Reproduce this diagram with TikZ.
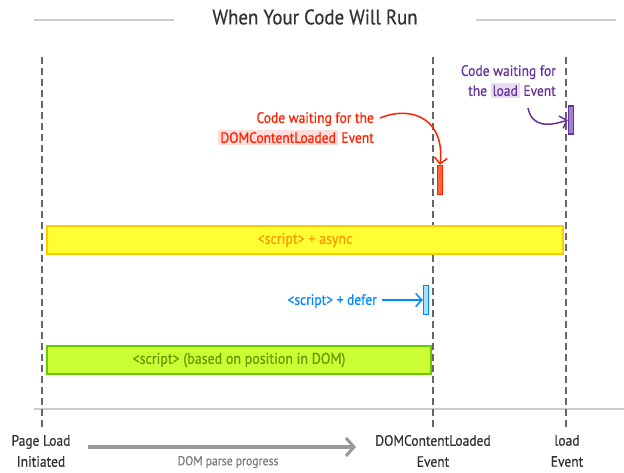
\documentclass[tikz,border=0pt]{standalone}
\usepackage{fontspec}
\setmainfont[FakeStretch=0.9,FakeBold=0.6]{PT Sans}
\usetikzlibrary{arrows.meta}
\definecolor{dashgray}{HTML}{666666}
\definecolor{linegray}{HTML}{CCCCCC}
\definecolor{ttl}{HTML}{333333}
\definecolor{redc}{HTML}{FF2200}
\definecolor{redfill}{HTML}{FF6633}
\definecolor{pinkhl}{HTML}{FFDDDD}
\definecolor{purc}{HTML}{663399}
\definecolor{purfill}{HTML}{A57FD6}
\definecolor{purhl}{HTML}{E6DDF2}
\definecolor{bluec}{HTML}{0088FF}
\definecolor{bluefill}{HTML}{AADDFF}
\definecolor{yelfill}{HTML}{FFFF33}
\definecolor{yeldraw}{HTML}{FFCC00}
\definecolor{yeltext}{HTML}{FF9900}
\definecolor{grnfill}{HTML}{CCFF33}
\definecolor{grndraw}{HTML}{66CC00}
\definecolor{grntext}{HTML}{669900}
\definecolor{arrgray}{HTML}{999999}
\tikzset{
  evline/.style={draw=dashgray, line width=2pt, dash pattern=on 7pt off 4pt},
  bar/.style={line width=2pt, minimum height=28pt, inner sep=0pt, anchor=west, font=\fontsize{15.5}{17}\selectfont},
  mark box/.style={line width=1.5pt, minimum width=5pt, inner sep=0pt},
  lbl/.style={font=\fontsize{15}{21}\selectfont, align=center, text=ttl},
  note/.style={font=\fontsize{15}{20}\selectfont, align=right, inner sep=0pt},
  chev/.style={-{Straight Barb[length=6pt,width=13pt,line width=1.5pt]}}
}
\setlength{\fboxsep}{2pt}
\begin{document}
\begin{tikzpicture}[x=1pt,y=-1pt]
\useasboundingbox (0,0) rectangle (624,473);
% title
\node[font=\fontsize{21}{24}\selectfont, text=ttl] (title) at (315,17) {When Your Code Will Run};
\coordinate (tl1) at (34,20); \coordinate (tl2) at (174,20);
\coordinate (tr1) at (476,20); \coordinate (tr2) at (616,20);
\draw[linegray, line width=1.5pt] (tl1) -- (tl2);
\draw[linegray, line width=1.5pt] (tr1) -- (tr2);
% baseline
\coordinate (b1) at (34,409); \coordinate (b2) at (624,409);
\draw[linegray, line width=1.5pt] (b1) -- (b2);
% event lines
\coordinate (s0) at (42,57); \coordinate (e0) at (42,428);
\coordinate (s1) at (433,57); \coordinate (e1) at (433,428);
\coordinate (s2) at (566,57); \coordinate (e2) at (566,428);
\draw[evline] (s0) -- (e0);
\draw[evline] (s1) -- (e1);
\draw[evline] (s2) -- (e2);
% bars
\node[bar, draw=yeldraw, fill=yelfill, minimum width=516pt, text=yeltext] (async) at (46,240) {\textless script\textgreater{} + async};
\node[bar, draw=grndraw, fill=grnfill, minimum width=384pt, text=grntext] (normal) at (46,360) {\textless script\textgreater{} (based on position in DOM)};
% defer
\node[mark box, draw=bluec, fill=bluefill, minimum height=29pt] (defer) at (426,300) {};
\node[note, text=bluec, anchor=east] (defertxt) at (377,301) {\textless script\textgreater{} + defer};
\coordinate (dstart) at (382,300);
\draw[bluec, line width=1.5pt, chev] (dstart) -- (defer.west);
% DOMContentLoaded waiting
\node[mark box, draw=redc, fill=redfill, minimum height=29pt] (dcl) at (440,180) {};
\node[note, text=redc, anchor=north east] (dcltxt) at (374,112) {Code waiting for the\\\colorbox{pinkhl}{DOMContentLoaded} Event};
\coordinate (rstart) at (380,118);
\draw[redc, line width=1.5pt, chev] (rstart) .. controls (415,104) and (445,122) .. (dcl.north);
% load waiting
\node[mark box, draw=purc, fill=purfill, minimum height=28pt] (ld) at (571,120) {};
\node[note, text=purc, anchor=north east] (ldtxt) at (556,65) {Code waiting for\\the \colorbox{purhl}{load} Event};
\coordinate (pstart) at (528,108);
\draw[purc, line width=1.5pt, chev] (pstart) .. controls (532,128) and (550,126) .. (ld.west);
% bottom labels
\node[lbl] (pl) at (41,451) {Page Load\\Initiated};
\node[lbl] (dcle) at (433,451) {DOMContentLoaded\\Event};
\node[lbl] (lde) at (567,451) {load\\Event};
\coordinate (ga) at (88,447); \coordinate (gb) at (356,447);
\draw[arrgray, line width=4pt, -{Straight Barb[length=8pt,width=18pt,line width=3pt]}] (ga) -- (gb);
\node[font=\fontsize{13}{15}\selectfont, text=arrgray!80!black] (dpp) at (228,462) {DOM parse progress};
\end{tikzpicture}
\end{document}
